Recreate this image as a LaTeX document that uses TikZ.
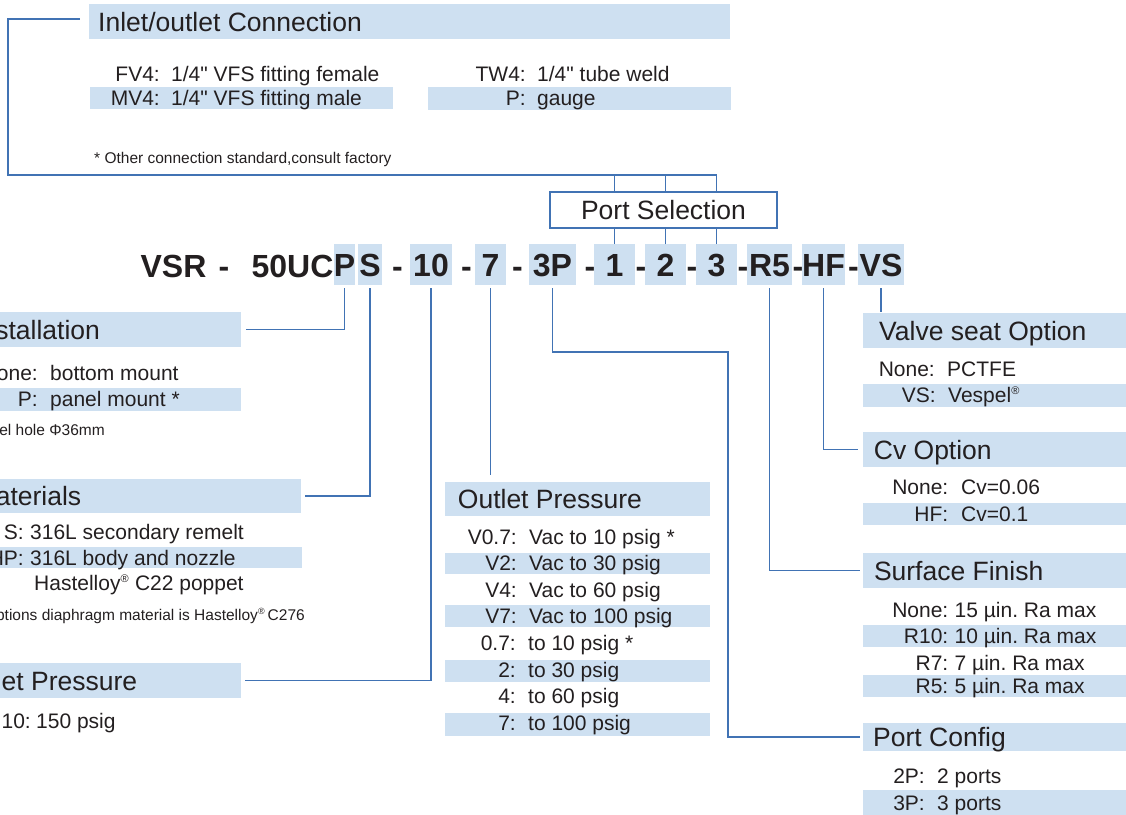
\documentclass[tikz,border=0pt]{standalone}
\usepackage{fontspec}
\setmainfont{Liberation Sans}[Ligatures=TeXOff]
\frenchspacing
\definecolor{hlblue}{RGB}{206,224,241}
\definecolor{lnblue}{RGB}{65,115,180}
\definecolor{txt}{RGB}{35,31,32}
\newcommand{\headfont}{\fontsize{26.5}{30}\selectfont}
\newcommand{\itemfont}{\fontsize{21}{25}\selectfont}
\newcommand{\notefont}{\fontsize{15.5}{18}\selectfont}
\newcommand{\codefont}{\fontsize{32}{36}\selectfont\bfseries}
\newcommand{\optrow}[6]{\node[lab] (#1l) at (#2,#4) {#5}; \node[val] (#1v) at (#3,#4) {#6};}
\newcommand{\regsup}{\textsuperscript{\fontsize{11}{12}\selectfont ®}}
\begin{document}
\begin{tikzpicture}[x=1pt,y=-1pt,
  hbox/.style={fill=hlblue, draw=none, inner sep=0pt, outer sep=0pt, anchor=north west},
  htext/.style={font=\headfont, text=txt, inner sep=0pt, anchor=base west},
  lab/.style={font=\itemfont, text=txt, inner sep=0pt, anchor=base east},
  val/.style={font=\itemfont, text=txt, inner sep=0pt, anchor=base west},
  note/.style={font=\notefont, text=txt, inner sep=0pt},
  cbox/.style={fill=hlblue, draw=none, minimum height=41pt, inner sep=0pt, outer sep=0pt, text height=23pt, text depth=0pt, font=\codefont, text=txt},
  ctext/.style={font=\codefont, text=txt, inner sep=0pt, anchor=base},
  conn/.style={draw=lnblue, line width=1.8pt},
  hl/.style={fill=hlblue}
]
\useasboundingbox (0,0) rectangle (1126,814);

% ---------- row highlights ----------
\fill[hl] (90,87) rectangle (393,109);
\fill[hl] (428,87) rectangle (731,110);
\fill[hl] (-5,388) rectangle (241,411);
\fill[hl] (-5,547) rectangle (302,568);
\fill[hl] (445,553) rectangle (710,574);
\fill[hl] (445,605) rectangle (710,627);
\fill[hl] (445,660) rectangle (710,682);
\fill[hl] (445,713) rectangle (710,736);
\fill[hl] (863,384) rectangle (1130,407);
\fill[hl] (863,503) rectangle (1130,525);
\fill[hl] (863,625) rectangle (1130,647);
\fill[hl] (863,675) rectangle (1130,697);
\fill[hl] (863,790) rectangle (1130,820);

% ---------- heading boxes ----------
\node[hbox, minimum width=641pt, minimum height=35pt] (hIO) at (89,4) {};
\node[hbox, minimum width=281pt, minimum height=35pt] (hInst) at (-40,312) {};
\node[hbox, minimum width=341pt, minimum height=34pt] (hMat) at (-40,479) {};
\node[hbox, minimum width=281pt, minimum height=35pt] (hIn) at (-40,663) {};
\node[hbox, minimum width=265pt, minimum height=34pt] (hOut) at (445,482) {};
\node[hbox, minimum width=280pt, minimum height=35pt] (hVS) at (863,313) {};
\node[hbox, minimum width=280pt, minimum height=35pt] (hCv) at (863,432) {};
\node[hbox, minimum width=280pt, minimum height=35pt] (hSF) at (863,553) {};
\node[hbox, minimum width=280pt, minimum height=28pt] (hPC) at (863,723) {};

\node[htext] (tIO) at (98,31) {Inlet/outlet Connection};
\node[htext] (tInst) at (-27,339) {Installation};
\node[htext] (tMat) at (-26.5,505.5) {Materials};
\node[htext] (tIn) at (-26.5,690) {Inlet Pressure};
\node[htext] (tOut) at (457.7,508.5) {Outlet Pressure};
\node[htext] (tVS) at (879,340.5) {Valve seat Option};
\node[htext] (tCv) at (873.7,459.5) {Cv Option};
\node[htext] (tSF) at (873.8,580.5) {Surface Finish};
\node[htext] (tPC) at (873,746.5) {Port Config};

% ---------- code row ----------
\node[cbox, minimum width=21pt] (cP) at (344.5,264.5) {P};
\node[cbox, minimum width=24pt] (cS) at (370,264.5) {S};
\node[cbox, minimum width=42pt] (c10) at (431,264.5) {10};
\node[cbox, minimum width=31pt] (c7) at (490.5,264.5) {7};
\node[cbox, minimum width=47pt] (c3P) at (552.5,264.5) {3P};
\node[cbox, minimum width=41pt] (c1) at (614.5,264.5) {1};
\node[cbox, minimum width=41pt] (c2) at (665.5,264.5) {2};
\node[cbox, minimum width=41pt] (c3) at (716.5,264.5) {3};
\node[cbox, minimum width=45pt] (cR5) at (769.5,264.5) {R5};
\node[cbox, minimum width=41pt] (cHF) at (823.5,264.5) {HF};
\node[cbox, minimum width=46pt] (cVS) at (881,264.5) {VS};

\node[ctext] (tVSR) at (173.5,277) {VSR};
\node[ctext] (d0) at (224,277) {-};
\node[ctext] (t50) at (292.5,277) {50UC};
\node[ctext] (d1) at (397.5,277) {-};
\node[ctext] (d2) at (466.5,277) {-};
\node[ctext] (d3) at (517.5,277) {-};
\node[ctext] (d4) at (590,277) {-};
\node[ctext] (d5) at (641,277) {-};
\node[ctext] (d6) at (692,277) {-};
\node[ctext] (d7) at (743,277) {-};
\node[ctext] (d8) at (798,277) {-};
\node[ctext] (d9) at (853.5,277) {-};

% ---------- port selection ----------
\node[draw=lnblue, line width=2.2pt, minimum width=227pt, minimum height=36pt, inner sep=0pt, text height=19pt, text depth=0pt, font=\headfont, text=txt] (ps) at (663.5,210) {Port Selection};
\coordinate (bus) at (8,175);
\coordinate (busTop) at (8,19);
\coordinate (pcBend) at (728,352);

% ---------- options text ----------
\optrow{fv}{160}{171}{81}{FV4:}{1/4" VFS fitting female}
\optrow{mv}{160}{171}{105}{MV4:}{1/4" VFS fitting male}
\optrow{tw}{526}{537}{81}{TW4:}{1/4" tube weld}
\optrow{pg}{526}{537}{105}{P:}{gauge}
\node[note, anchor=base west] (nIO) at (94,163) {* Other connection standard,consult factory};

\optrow{inA}{38}{50}{380}{None:}{bottom mount}
\optrow{inB}{38}{50}{406}{P:}{panel mount *}
\node[note, anchor=base east] (nInst) at (105,435) {* Panel hole Φ36mm};

\optrow{maA}{24}{30}{539}{S:}{316L secondary remelt}
\optrow{maB}{24}{30}{565}{HP:}{316L body and nozzle}
\node[val] (maC) at (34,590) {Hastelloy\regsup\ C22 poppet};
\node[note, anchor=base east] (nMat) at (305,620) {* HP options diaphragm material is Hastelloy{\textsuperscript{\fontsize{9}{10}\selectfont ®}}\,C276};

\optrow{ipA}{31}{36}{728}{10:}{150 psig}

\optrow{opA}{517}{529}{544}{V0.7:}{Vac to 10 psig *}
\optrow{opB}{517}{529}{570.5}{V2:}{Vac to 30 psig}
\optrow{opC}{517}{529}{597}{V4:}{Vac to 60 psig}
\optrow{opD}{517}{529}{623.5}{V7:}{Vac to 100 psig}
\optrow{opE}{516}{528}{650}{0.7:}{to 10 psig *}
\optrow{opF}{516}{528}{677}{2:}{to 30 psig}
\optrow{opG}{516}{528}{703.5}{4:}{to 60 psig}
\optrow{opH}{516}{528}{730.5}{7:}{to 100 psig}

\optrow{vsA}{935}{947}{376}{None:}{PCTFE}
\optrow{vsB}{936}{948}{402.5}{VS:}{Vespel\regsup}

\optrow{cvA}{948.5}{961}{494}{None:}{Cv=0.06}
\optrow{cvB}{948.5}{961}{521}{HF:}{Cv=0.1}

\optrow{sfA}{948.5}{954.5}{617}{None:}{15 µin. Ra max}
\optrow{sfB}{948.5}{954.5}{643}{R10:}{10 µin. Ra max}
\optrow{sfC}{948.5}{954.5}{670}{R7:}{7 µin. Ra max}
\optrow{sfD}{948.5}{954.5}{693.5}{R5:}{5 µin. Ra max}

\optrow{pcA}{925}{937}{783}{2P:}{2 ports}
\optrow{pcB}{925}{937}{810}{3P:}{3 ports}

% ---------- connectors ----------
\draw[conn] (c1.north) -- (c1.north |- ps.south);
\draw[conn] (c2.north) -- (c2.north |- ps.south);
\draw[conn] (c3.north) -- (c3.north |- ps.south);
\draw[conn] (ps.north -| c1) -- (c1 |- bus);
\draw[conn] (ps.north -| c2) -- (c2 |- bus);
\draw[conn, shorten >=9pt] (ps.north -| c3) |- (bus) |- (hIO.west |- busTop);

\draw[conn, shorten <=3pt, shorten >=5pt] (cP.south) |- (hInst.east);
\draw[conn, shorten <=3pt, shorten >=4pt] (cS.south) |- (hMat.east);
\draw[conn, shorten <=3pt, shorten >=4pt] (c10.south) |- (hIn.east);
\draw[conn, shorten <=3pt, shorten >=7pt] (c7.south) -- (c7.south |- hOut.north);
\draw[conn, shorten <=3pt, shorten >=3pt] (c3P.south) |- (pcBend) |- (hPC.west);
\draw[conn, shorten <=3pt, shorten >=3pt] (cR5.south) |- (hSF.west);
\draw[conn, shorten <=3pt, shorten >=5pt] (cHF.south) |- (hCv.west);
\draw[conn, shorten <=3pt, shorten >=1pt] (cVS.south) -- (cVS.south |- hVS.north);
\end{tikzpicture}
\end{document}
